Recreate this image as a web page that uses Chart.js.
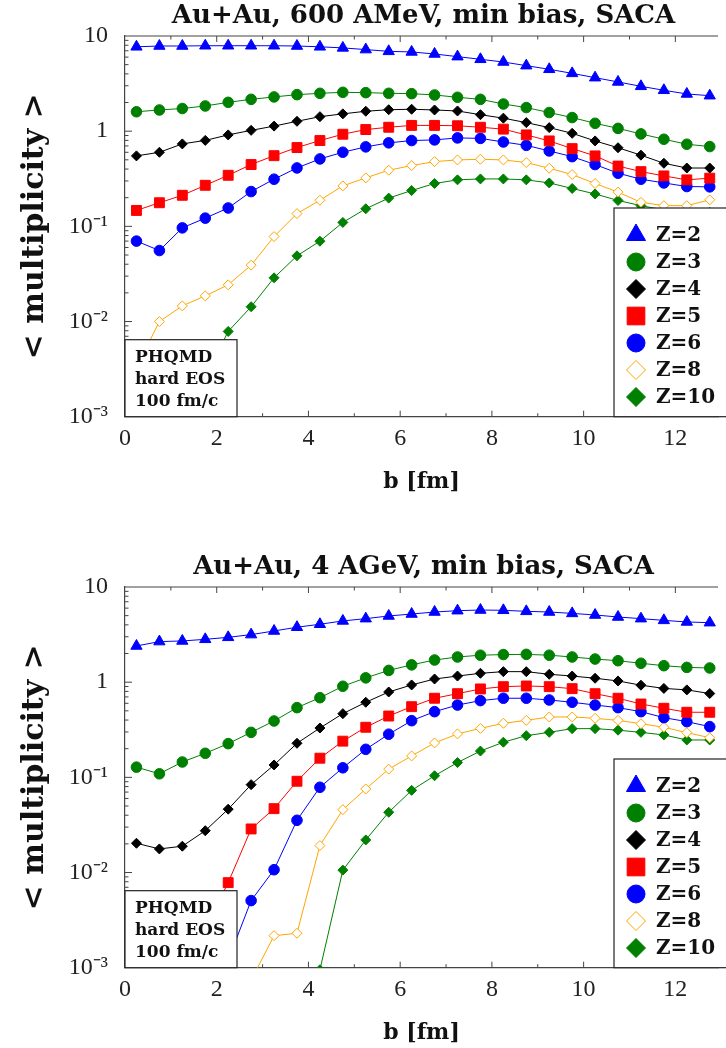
<!DOCTYPE html>
<html>
<head>
<meta charset="utf-8">
<script src="https://cdn.jsdelivr.net/npm/chart.js@4.4.1/dist/chart.umd.min.js"></script>
<style>
  html, body { margin: 0; padding: 0; background: #fff; overflow: hidden; }
  .panel { position: relative; width: 726px; }
  #panelTop { height: 551px; }
  #panelBottom { height: 497px; }
</style>
</head>
<body>
<div class="panel" id="panelTop"><canvas id="chartTop"></canvas></div>
<div class="panel" id="panelBottom"><canvas id="chartBottom"></canvas></div>
<script>
// impact parameter bins (fm)
const bValues = [0.25, 0.75, 1.25, 1.75, 2.25, 2.75, 3.25, 3.75, 4.25, 4.75, 5.25, 5.75, 6.25,
                 6.75, 7.25, 7.75, 8.25, 8.75, 9.25, 9.75, 10.25, 10.75, 11.25, 11.75, 12.25, 12.75];
const zLabels = ["Z=2", "Z=3", "Z=4", "Z=5", "Z=6", "Z=8", "Z=10"];
const xTickValues = [0, 2, 4, 6, 8, 10, 12];
const yTickValues = [0.001, 0.01, 0.1, 1, 10];
const yTickLabels = ["10\u207B\u00B3", "10\u207B\u00B2", "10\u207B\u00B9", "1", "10"];
const noteLines = ["PHQMD", "hard EOS", "100 fm/c"];
const titleTop = "Au+Au, 600 AMeV, min bias, SACA";
const titleBottom = "Au+Au, 4 AGeV, min bias, SACA";

// 600 AMeV
const amev600Z2 = [7.7, 7.85, 7.85, 7.9, 7.9, 7.9, 7.9, 7.85, 7.7, 7.5, 7.2, 6.9, 6.8, 6.47, 6.07, 5.69, 5.33, 4.88, 4.47, 4.05, 3.65, 3.29, 2.96, 2.69, 2.46, 2.36];
const amev600Z3 = [1.60, 1.67, 1.73, 1.84, 2.01, 2.16, 2.29, 2.42, 2.50, 2.56, 2.54, 2.50, 2.48, 2.40, 2.27, 2.16, 1.93, 1.77, 1.57, 1.39, 1.21, 1.07, 0.936, 0.823, 0.729, 0.689];
const amev600Z4 = [0.55, 0.60, 0.735, 0.80, 0.914, 1.02, 1.13, 1.27, 1.42, 1.52, 1.62, 1.68, 1.70, 1.67, 1.63, 1.49, 1.37, 1.23, 1.09, 0.95, 0.79, 0.67, 0.56, 0.46, 0.41, 0.41];
const amev600Z5 = [0.147, 0.177, 0.212, 0.270, 0.344, 0.446, 0.553, 0.673, 0.797, 0.929, 1.04, 1.10, 1.15, 1.15, 1.14, 1.10, 1.05, 0.914, 0.79, 0.656, 0.55, 0.43, 0.376, 0.339, 0.308, 0.321];
const amev600Z6 = [0.070, 0.0557, 0.0964, 0.122, 0.156, 0.232, 0.313, 0.411, 0.511, 0.601, 0.684, 0.754, 0.797, 0.81, 0.85, 0.84, 0.77, 0.71, 0.62, 0.54, 0.446, 0.362, 0.313, 0.286, 0.262, 0.260];
const amev600Z8 = [0.0033, 0.0100, 0.0146, 0.0186, 0.0243, 0.0391, 0.0781, 0.136, 0.188, 0.266, 0.323, 0.389, 0.435, 0.479, 0.499, 0.507, 0.499, 0.468, 0.408, 0.350, 0.282, 0.229, 0.179, 0.165, 0.165, 0.190];
const amev600Z10 = [null, null, null, 0.0026, 0.00787, 0.0143, 0.0288, 0.0490, 0.0698, 0.110, 0.153, 0.198, 0.238, 0.282, 0.308, 0.315, 0.315, 0.308, 0.286, 0.250, 0.219, 0.187, 0.165, 0.149, 0.14, 0.14];

// 4 AGeV
const agev4Z2 = [2.40, 2.67, 2.71, 2.82, 2.96, 3.16, 3.45, 3.78, 4.06, 4.40, 4.65, 4.96, 5.20, 5.46, 5.64, 5.73, 5.69, 5.55, 5.46, 5.28, 5.08, 4.84, 4.65, 4.46, 4.29, 4.22];
const agev4Z3 = [0.128, 0.109, 0.145, 0.179, 0.226, 0.297, 0.391, 0.540, 0.687, 0.906, 1.11, 1.33, 1.52, 1.71, 1.84, 1.92, 1.95, 1.96, 1.92, 1.84, 1.75, 1.68, 1.58, 1.49, 1.43, 1.41];
const agev4Z4 = [0.0203, 0.0177, 0.0189, 0.0275, 0.0463, 0.0838, 0.135, 0.228, 0.330, 0.467, 0.615, 0.789, 0.935, 1.08, 1.16, 1.24, 1.29, 1.29, 1.21, 1.16, 1.10, 1.03, 0.93, 0.86, 0.83, 0.76];
const agev4Z5 = [null, null, null, 0.0026, 0.00783, 0.0287, 0.0469, 0.091, 0.159, 0.240, 0.336, 0.441, 0.553, 0.678, 0.757, 0.849, 0.897, 0.912, 0.897, 0.855, 0.757, 0.678, 0.590, 0.532, 0.483, 0.483];
const agev4Z6 = [null, null, null, null, 0.0012, 0.00507, 0.0107, 0.0354, 0.0787, 0.126, 0.197, 0.284, 0.394, 0.490, 0.575, 0.640, 0.678, 0.678, 0.650, 0.615, 0.575, 0.540, 0.490, 0.424, 0.385, 0.341];
const agev4Z8 = [null, null, null, null, null, 0.00074, 0.00217, 0.0023, 0.0192, 0.0458, 0.0755, 0.122, 0.168, 0.230, 0.286, 0.327, 0.370, 0.397, 0.431, 0.431, 0.417, 0.397, 0.366, 0.336, 0.295, 0.261];
const agev4Z10 = [null, null, null, null, null, null, null, null, 0.00095, 0.0106, 0.0220, 0.0430, 0.073, 0.104, 0.143, 0.189, 0.234, 0.274, 0.297, 0.325, 0.325, 0.313, 0.297, 0.279, 0.247, 0.247];

// marker look per Z
const styles = [
  { color: "#0000ff", fill: "#0000ff", point: "triangle", r: 6.5, lr: 11 },
  { color: "#008000", fill: "#008000", point: "circle", r: 5.3, lr: 9 },
  { color: "#000000", fill: "#000000", point: "rectRot", r: 5, lr: 9.5 },
  { color: "#ff0000", fill: "#ff0000", point: "rect", r: 7, lr: 12.5 },
  { color: "#0000ff", fill: "#0000ff", point: "circle", r: 5.3, lr: 9 },
  { color: "#ffa500", fill: "#ffffff", point: "rectRot", r: 5, lr: 9.5 },
  { color: "#008000", fill: "#008000", point: "rectRot", r: 5, lr: 9.5 }
];

const boldSerif = "'DejaVu Serif', serif";
const frameColor = "#444";

// title, inward ticks, note box and legend box
const decorations = {
  id: "decorations",
  beforeDatasetsDraw(chart) {
    const { ctx, chartArea: a, scales: { x, y } } = chart;
    ctx.save();
    ctx.strokeStyle = frameColor;
    ctx.lineWidth = 1.2;
    ctx.beginPath();
    ctx.moveTo(a.left, a.top);
    ctx.lineTo(a.right, a.top);
    ctx.stroke();
    ctx.lineWidth = 1;
    ctx.beginPath();
    for (let v = 1; v <= Math.floor(x.max); v++) {
      const px = x.getPixelForValue(v);
      const len = v % 2 === 0 ? 6 : 3.5;
      ctx.moveTo(px, a.bottom); ctx.lineTo(px, a.bottom - len);
      ctx.moveTo(px, a.top); ctx.lineTo(px, a.top + len);
    }
    for (let e = -3; e <= 1; e++) {
      for (let m = 1; m <= 9; m++) {
        const v = m * Math.pow(10, e);
        if (v <= y.min || v >= y.max) continue;
        const py = y.getPixelForValue(v);
        const len = m === 1 ? 7 : 3.5;
        ctx.moveTo(a.left, py); ctx.lineTo(a.left + len, py);
      }
    }
    ctx.stroke();
    ctx.restore();
  },
  afterDatasetsDraw(chart, args, opts) {
    const { ctx, chartArea: a } = chart;
    ctx.save();
    // title over the plot
    ctx.fillStyle = "#111";
    ctx.font = "bold 26px " + boldSerif;
    ctx.textAlign = "center";
    ctx.textBaseline = "middle";
    ctx.fillText(opts.title, (a.left + a.right) / 2 + 2, 16);

    // note box, bottom left
    const nb = { l: a.left, t: a.bottom - 77, w: 112 };
    ctx.fillStyle = "#fff";
    ctx.fillRect(nb.l, nb.t, nb.w, a.bottom - nb.t);
    ctx.strokeStyle = "#222";
    ctx.lineWidth = 1.2;
    ctx.strokeRect(nb.l, nb.t, nb.w, a.bottom - nb.t);
    ctx.fillStyle = "#111";
    ctx.font = "bold 17px " + boldSerif;
    ctx.textAlign = "left";
    noteLines.forEach((t, i) => ctx.fillText(t, nb.l + 10, a.bottom - 59 + i * 22));

    // legend box, bottom right
    const lb = { l: a.left + 489, t: a.top + 172 };
    ctx.fillStyle = "#fff";
    ctx.fillRect(lb.l, lb.t, a.right - lb.l + 10, a.bottom - lb.t);
    ctx.strokeRect(lb.l, lb.t, a.right - lb.l + 10, a.bottom - lb.t);
    ctx.font = "bold 20px " + boldSerif;
    chart.data.datasets.forEach((ds, i) => {
      const st = styles[i];
      const cy = lb.t + 27 + i * 27;
      ctx.fillStyle = st.fill;
      ctx.strokeStyle = st.color;
      ctx.lineWidth = 1;
      Chart.helpers.drawPoint(ctx, { pointStyle: st.point, radius: st.lr, rotation: 0, borderWidth: 1 }, lb.l + 22, cy);
      ctx.fillStyle = "#111";
      ctx.fillText(ds.label, lb.l + 42, cy + 1);
    });
    ctx.restore();
  }
};

function makeChart(canvasId, title, series, padBottom) {
  return new Chart(document.getElementById(canvasId), {
    type: "line",
    data: {
      datasets: series.map((vals, i) => ({
        label: zLabels[i],
        data: bValues.map((b, j) => ({ x: b, y: vals[j] })),
        borderColor: styles[i].color,
        backgroundColor: styles[i].fill,
        pointBackgroundColor: styles[i].fill,
        pointBorderColor: styles[i].color,
        pointStyle: styles[i].point,
        pointRadius: styles[i].r,
        pointBorderWidth: 1,
        borderWidth: 1,
        tension: 0,
        spanGaps: false
      }))
    },
    options: {
      responsive: true,
      maintainAspectRatio: false,
      animation: false,
      layout: { padding: { top: 36, left: 0, right: 0, bottom: padBottom } },
      plugins: {
        legend: { display: false },
        tooltip: { enabled: false },
        decorations: { title: title }
      },
      scales: {
        x: {
          type: "linear",
          min: 0,
          max: 12.93,
          afterFit: s => { s.height = 78.5; s.paddingRight = 0; },
          grid: { display: false, drawTicks: false },
          border: { display: true, color: frameColor, width: 1.2 },
          ticks: {
            stepSize: 1,
            includeBounds: false,
            autoSkip: false,
            maxRotation: 0,
            padding: 8,
            color: "#222",
            font: { family: "'Liberation Serif', serif", size: 24 },
            callback: v => (xTickValues.includes(v) ? String(v) : "")
          },
          title: {
            display: true,
            text: "b [fm]",
            color: "#111",
            padding: { top: 0, bottom: 0 },
            font: { family: boldSerif, weight: "bold", size: 22 }
          }
        },
        y: {
          type: "logarithmic",
          min: 0.001,
          max: 10,
          afterFit: s => { s.width = 125; },
          grid: { display: false, drawTicks: false },
          border: { display: true, color: frameColor, width: 1.2 },
          ticks: {
            autoSkip: false,
            padding: 17,
            color: "#222",
            font: { family: "'Liberation Serif', serif", size: 24 },
            callback: v => {
              const k = yTickValues.findIndex(t => Math.abs(Math.log10(v) - Math.log10(t)) < 1e-6);
              return k >= 0 ? yTickLabels[k] : "";
            }
          },
          title: {
            display: true,
            text: "< multiplicity >",
            color: "#111",
            padding: { top: 17, bottom: 0 },
            font: { family: boldSerif, weight: "bold", size: 30 }
          }
        }
      }
    },
    plugins: [decorations]
  });
}

makeChart("chartTop", titleTop,
  [amev600Z2, amev600Z3, amev600Z4, amev600Z5, amev600Z6, amev600Z8, amev600Z10], 55.8);
makeChart("chartBottom", titleBottom,
  [agev4Z2, agev4Z3, agev4Z4, agev4Z5, agev4Z6, agev4Z8, agev4Z10], 1.8);
</script>
</body>
</html>
